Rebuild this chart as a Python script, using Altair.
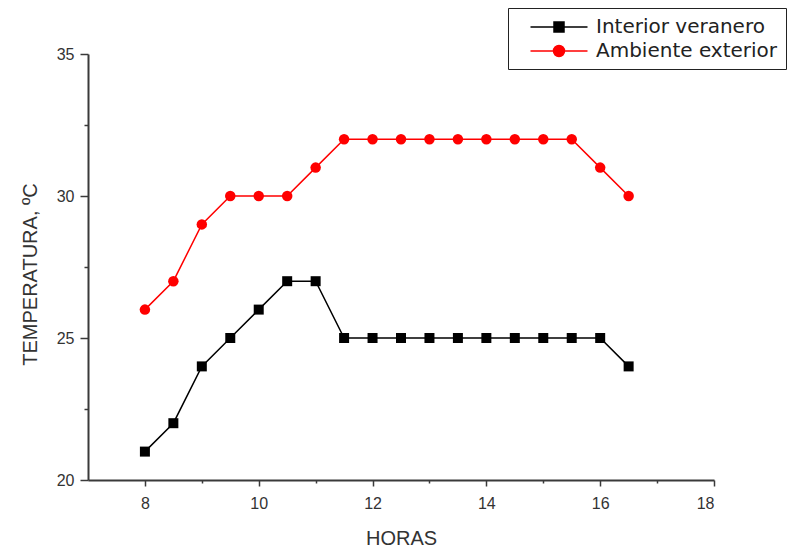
import altair as alt
import pandas as pd

# ---- data ----
horas = [8, 8.5, 9, 9.5, 10, 10.5, 11, 11.5, 12, 12.5, 13, 13.5, 14, 14.5, 15, 15.5, 16, 16.5]
interior = [21, 22, 24, 25, 26, 27, 27, 25, 25, 25, 25, 25, 25, 25, 25, 25, 25, 24]
exterior = [26, 27, 29, 30, 30, 30, 31, 32, 32, 32, 32, 32, 32, 32, 32, 32, 31, 30]
series = ["Interior veranero", "Ambiente exterior"]
colors = ["#000000", "#ff0000"]
x_ticks = [8, 9, 10, 11, 12, 13, 14, 15, 16, 17, 18]
y_ticks = [20, 22.5, 25, 27.5, 30, 32.5, 35]

rows = []
for h, v in zip(horas, interior):
    rows.append({"hora": h, "temp": v, "serie": series[0]})
for h, v in zip(horas, exterior):
    rows.append({"hora": h, "temp": v, "serie": series[1]})
df = pd.DataFrame(rows)

FONT = "Liberation Sans"
AXIS_COLOR = "#3a3a3a"

x_enc = alt.X(
    "hora:Q",
    scale=alt.Scale(domain=[7, 18], nice=False, zero=False),
    axis=alt.Axis(
        title="HORAS",
        values=x_ticks,
        labelExpr="datum.value % 2 === 0 ? datum.label : ''",
        tickSize={"condition": {"test": "datum.value % 2 !== 0", "value": 3}, "value": 6},
        grid=False,
        domainColor=AXIS_COLOR,
        domainWidth=2,
        tickColor=AXIS_COLOR,
        tickWidth=1.5,
        labelFont=FONT,
        labelFontSize=16,
        labelColor="#333333",
        labelPadding=9,
        titleFont=FONT,
        titleFontSize=20,
        titleFontWeight="normal",
        titleColor="#333333",
        titleBaseline="middle",
        titleY=58,
    ),
)
y_enc = alt.Y(
    "temp:Q",
    scale=alt.Scale(domain=[20, 35], nice=False, zero=False),
    axis=alt.Axis(
        title="TEMPERATURA, ºC",
        values=y_ticks,
        labelExpr="datum.value % 5 === 0 ? datum.label : ''",
        tickSize={"condition": {"test": "datum.value % 5 !== 0", "value": 4}, "value": 8},
        grid=False,
        domainColor=AXIS_COLOR,
        domainWidth=2,
        tickColor=AXIS_COLOR,
        tickWidth=1.5,
        labelFont=FONT,
        labelFontSize=16,
        labelColor="#333333",
        labelPadding=6,
        titleFont=FONT,
        titleFontSize=20,
        titleFontWeight="normal",
        titleColor="#333333",
        titleX=-58,
        titleY=220,
        titleAlign="center",
        titleBaseline="middle",
    ),
)

base = alt.Chart(df)

# legend glyphs: a line with the marker in the middle (symbol box = 20 px, line = 57 px)
path_sq = "M-2.85,0H2.85M-0.5,-0.5H0.5V0.5H-0.5Z"
path_ci = "M-2.85,0H2.85M-0.55,0A0.55,0.55 0 1,0 0.55,0A0.55,0.55 0 1,0 -0.55,0Z"

leg = dict(
    title=None,
    orient="none",
    legendX=420,
    legendY=-46,
    strokeColor="#222222",
    fillColor="white",
    padding=8,
    symbolSize=400,
    symbolOpacity=1,
    symbolOffset=32,
    symbolStrokeWidth=1.5,
    labelFont="DejaVu Sans",
    labelFontSize=20,
    labelColor="#222222",
    labelOffset=26,
    labelLimit=400,
    rowPadding=3,
)

# legend-only layer: no rows reach it, it only provides the merged legend
legend_layer = base.transform_filter("false").mark_point(
    filled=True, size=400, strokeWidth=1.5, opacity=1
).encode(
    x=x_enc,
    y=y_enc,
    color=alt.Color("serie:N", scale=alt.Scale(domain=series, range=colors), legend=alt.Legend(**leg)),
    stroke=alt.Stroke("serie:N", scale=alt.Scale(domain=series, range=colors), legend=alt.Legend(**leg)),
    shape=alt.Shape("serie:N", scale=alt.Scale(domain=series, range=[path_sq, path_ci]), legend=alt.Legend(**leg)),
)

lines = base.mark_line(strokeWidth=1.5).encode(
    x=x_enc,
    y=y_enc,
    color=alt.Color("serie:N", scale=alt.Scale(domain=series, range=colors), legend=alt.Legend(**leg)),
)

squares = base.transform_filter(alt.datum.serie == series[0]).mark_square(
    size=100, opacity=1, color="#000000"
).encode(x=x_enc, y=y_enc)

circles = base.transform_filter(alt.datum.serie == series[1]).mark_circle(
    size=110, opacity=1, color="#ff0000"
).encode(x=x_enc, y=y_enc)

chart = (
    alt.layer(legend_layer, lines, squares, circles)
    .properties(
        width=626,
        height=426,
        autosize=alt.AutoSizeParams(type="none"),
        padding={"left": 88, "top": 54, "right": 78, "bottom": 69},
        background="white",
    )
    .configure_view(stroke=None)
)

chart.save("out.html", embed_options={"renderer": "svg", "actions": False})
